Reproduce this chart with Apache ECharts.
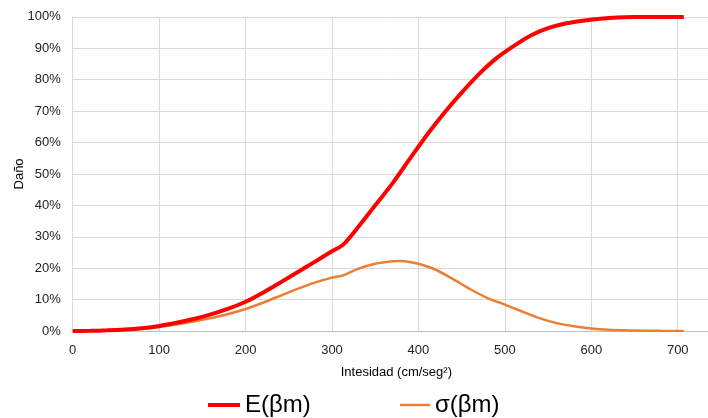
<!DOCTYPE html>
<html>
<head>
<meta charset="utf-8">
<script src="https://cdn.jsdelivr.net/npm/echarts@6/dist/echarts.min.js"></script>
<style>html,body{margin:0;padding:0;background:#fff}#c{width:708px;height:418px}</style>
</head>
<body>
<div id="c"></div>
<script>
// Intensity (cm/seg^2) sample points
const xE = [0,20,40,60,80,100,120,140,160,180,200,220,240,260,280,300,313,330,350,370,390,410,430,450,470,490,510,530,550,570,590,610,630,650,670,690,707];
// E(βm) damage, percent
const yE = [0,0.05,0.2,0.45,0.9,1.6,2.6,3.8,5.3,7.1,9.3,12.2,15.4,18.7,22.0,25.4,27.5,33.0,40.0,47.0,54.8,62.5,69.5,75.9,81.8,86.8,90.7,94.1,96.4,97.9,98.8,99.4,99.8,99.95,100,100,100];
const xS = [0,20,40,60,80,100,120,140,160,180,200,220,240,260,280,300,313,330,350,370,380,390,400,420,440,460,480,500,520,540,560,580,600,620,640,660,680,707];
// σ(βm), percent
const yS = [0,0.03,0.1,0.3,0.7,1.3,2.1,3.0,4.1,5.4,7.0,9.0,11.2,13.4,15.4,17.0,17.7,19.8,21.4,22.2,22.3,22.0,21.4,19.5,16.5,13.3,10.5,8.4,6.2,4.1,2.5,1.5,0.8,0.4,0.2,0.1,0.05,0.02];
const xTicks = [0,100,200,300,400,500,600,700];

const font = 'Liberation Sans, Arial, Helvetica, sans-serif';
const legendText = {fontSize: 24, color: '#000', fontFamily: font};
const chart = echarts.init(document.getElementById('c'));
chart.setOption({
  animation: false,
  textStyle: {fontFamily: font},
  grid: {left: 72.7, right: 0, top: 16.9, bottom: 87, outerBoundsMode: 'none', containLabel: false},
  legend: [
    {
      left: 203, top: 388, itemWidth: 32, itemHeight: 4, itemGap: 0,
      icon: 'rect', textStyle: legendText, data: ['E(βm)']
    },
    {
      left: 395, top: 388, itemWidth: 30, itemHeight: 2.5, itemGap: 0,
      icon: 'rect', textStyle: legendText, data: ['σ(βm)']
    }
  ],
  xAxis: {
    type: 'value', min: 0, max: 735, interval: 100,
    name: 'Intesidad (cm/seg²)', nameLocation: 'middle', nameGap: 35, nameMoveOverlap: false,
    nameTextStyle: {fontSize: 13, color: '#000', padding: [0, 0, 0, 12]},
    axisLine: {show: true, lineStyle: {color: '#bfbfbf', width: 1}},
    axisTick: {show: false},
    axisLabel: {fontSize: 13, color: '#222', margin: 13, showMaxLabel: false,
      formatter: v => xTicks.includes(v) ? String(v) : ''},
    splitLine: {show: true, lineStyle: {color: '#d9d9d9', width: 1}}
  },
  yAxis: {
    type: 'value', min: 0, max: 100, interval: 10,
    name: 'Daño', nameLocation: 'middle', nameGap: 47, nameMoveOverlap: false,
    nameTextStyle: {fontSize: 13, color: '#000'},
    axisLine: {show: true, lineStyle: {color: '#d9d9d9', width: 1}},
    axisTick: {show: false},
    axisLabel: {fontSize: 13, color: '#222', margin: 12, formatter: '{value}%'},
    splitLine: {show: true, lineStyle: {color: '#d9d9d9', width: 1}}
  },
  series: [
    {
      name: 'E(βm)', type: 'line', showSymbol: false, symbol: 'none', smooth: 0.25,
      data: xE.map((x, i) => [x, yE[i]]),
      lineStyle: {color: '#ff0000', width: 4}, itemStyle: {color: '#ff0000'}, z: 3
    },
    {
      name: 'σ(βm)', type: 'line', showSymbol: false, symbol: 'none', smooth: 0.25,
      data: xS.map((x, i) => [x, yS[i]]),
      lineStyle: {color: '#ed7d31', width: 2.5}, itemStyle: {color: '#ed7d31'}, z: 2
    }
  ]
});
</script>
</body>
</html>
